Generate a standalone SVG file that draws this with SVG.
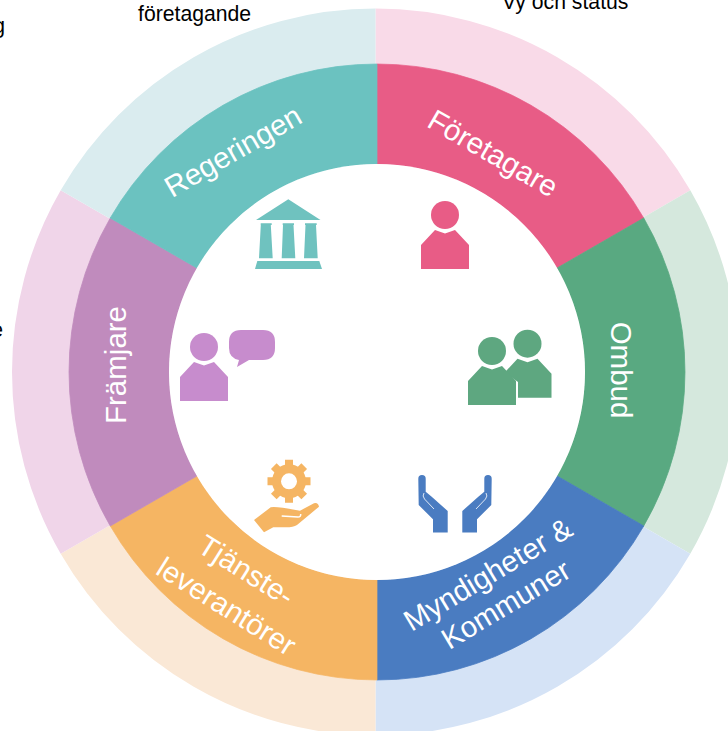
<svg xmlns="http://www.w3.org/2000/svg" width="728" height="731" viewBox="0 0 728 731">
<style>
.o{font-family:"Liberation Sans",Arial,sans-serif;font-size:21.2px;fill:#000}
.l{font-family:"Liberation Sans",Arial,sans-serif;font-size:29.500px;fill:#fff;text-anchor:middle}
.s{stroke-width:.7}
.g{stroke:#f5b563;stroke-width:8;fill:none}
</style>
<defs>
<path id="p1" d="M0-363.500A363.500 363.500 0 0 1 314.800-181.750L259.800-150A300 300 0 0 0 0-300Z"/>
<path id="p2" d="M0-308A308 308 0 0 1 266.700-154L180.100-104A208 208 0 0 0 0-208Z"/>
<g id="person"><path d="M-24 54V30L-10 15L0 18.500L10 15L24 30V54Z"/><circle r="16" fill="#fff"/><circle r="14"/></g>
</defs>
<g id="bands" transform="translate(375.500,372)">
<use href="#p1" fill="#f9dae8"/>
<use href="#p1" fill="#d5e8dd" transform="rotate(60)"/>
<use href="#p1" fill="#d5e3f6" transform="rotate(120)"/>
<use href="#p1" fill="#fae8d6" transform="rotate(180)"/>
<use href="#p1" fill="#f0d5e9" transform="rotate(240)"/>
<use href="#p1" fill="#daecef" transform="rotate(300)"/>
</g>
<g id="connectors"></g>
<g id="foretagare">
<use href="#p2" class="s" fill="#e85c86" stroke="#e85c86" transform="translate(377,372)"/>
<text class="l" transform="translate(488,162) rotate(30)">Företagare</text>
</g>
<g id="ombud">
<use href="#p2" class="s" fill="#59a981" stroke="#59a981" transform="translate(377,372) rotate(60)"/>
<text class="l" transform="translate(611,370) rotate(90)">Ombud</text>
</g>
<g id="myndigheter">
<use href="#p2" class="s" fill="#4a7cc1" stroke="#4a7cc1" transform="translate(377,372) rotate(120)"/>
<text class="l" transform="translate(493,583) rotate(-31)">Myndigheter &amp;</text>
<text class="l" transform="translate(511,613) rotate(-31)">Kommuner</text>
</g>
<g id="tjanste">
<use href="#p2" class="s" fill="#f5b563" stroke="#f5b563" transform="translate(377,372) rotate(180)"/>
<text class="l" transform="translate(241,579) rotate(32)">Tjänste-</text>
<text class="l" transform="translate(221,615) rotate(32)">leverantörer</text>
</g>
<g id="framjare">
<use href="#p2" class="s" fill="#c08bbd" stroke="#c08bbd" transform="translate(377,372) rotate(240)"/>
<text class="l" transform="translate(126,365) rotate(-90)">Främjare</text>
</g>
<g id="regeringen">
<use href="#p2" class="s" fill="#6bc2c0" stroke="#6bc2c0" transform="translate(377,372) rotate(300)"/>
<text class="l" transform="translate(238,160) rotate(-30)">Regeringen</text>
</g>
<circle id="hub" cx="377" cy="372" r="208" fill="#fff"/>
<g id="icon-foretagare"><use href="#person" fill="#e85c86" transform="translate(445,215)"/></g>
<g id="icon-ombud">
<use href="#person" fill="#5ea780" transform="translate(527.500,343.700)"/>
<path d="M491.500 363L470 383L466 407H518V382Z" fill="#fff"/>
<use href="#person" fill="#5ea780" transform="translate(492,351)"/>
</g>
<g id="icon-myndigheter">
<g id="hand-l">
<path d="M418.300 478.700a3.700 3.700 0 0 1 7.400 0V491.700L431.700 496.700L447.700 511V532.500H433V519.300L418.700 505Z" fill="#4a7cc1"/>
<path d="M424 493Q422 496 424.500 499L434 509" stroke="#dfe8f5" stroke-width="1" fill="none"/>
</g>
<g transform="translate(910,0) scale(-1,1)">
<path d="M418.300 478.700a3.700 3.700 0 0 1 7.400 0V491.700L431.700 496.700L447.700 511V532.500H433V519.300L418.700 505Z" fill="#4a7cc1"/>
<path d="M424 493Q422 496 424.500 499L434 509" stroke="#dfe8f5" stroke-width="1" fill="none"/>
</g>
</g>
<g id="icon-tjanste">
<g transform="translate(289,481.300)">
<circle r="17" fill="#f5b563"/>
<path class="g" d="M0-21.500V21.500M-21.500 0H21.500M-15.200-15.200L15.200 15.200M-15.200 15.200L15.200-15.200"/>
<circle r="8" fill="#fff"/>
</g>
<path d="M254 520L270.700 507.300Q276 506 300 510.700L314 503.300Q318 502 319 506.700L297 525Q293 527.500 285 527.300L273.300 527.300L264 532.300Z" fill="#f5b563"/>
<path d="M281.700 516L298 517Q301 517 300.700 514" stroke="#fff" stroke-width="1.500" fill="none"/>
</g>
<g id="icon-framjare">
<use href="#person" fill="#c78ccd" transform="translate(204,347)"/>
<path d="M241 330H263Q275 330 275 342V348Q275 360 263 360H249L237 367L239 360Q229 358 229 348V342Q229 330 241 330Z" fill="#c78ccd"/>
</g>
<g id="icon-regeringen">
<path d="M288.300 199.300L320.500 220H256ZM260.700 223.300H271.700V225L270.800 225L272.700 258.300H259L260.800 225H260.700ZM282.700 223.300H294V225L293.500 225L295.300 258.300H281.700L283 225H282.700ZM305 223.300H316.700V225H316L317.700 258.300H304L305.500 225H305ZM257.300 261H319.300L322 269H255Z" fill="#6fc2bf"/>
</g>
<g id="clipped-labels">
<text class="o" x="138" y="21">företagande</text>
<text class="o" x="502" y="9">Vy och status</text>
<text class="o" x="5" y="33" text-anchor="end">g</text>
<text class="o" x="3" y="337" text-anchor="end">e</text>
</g>
</svg>
